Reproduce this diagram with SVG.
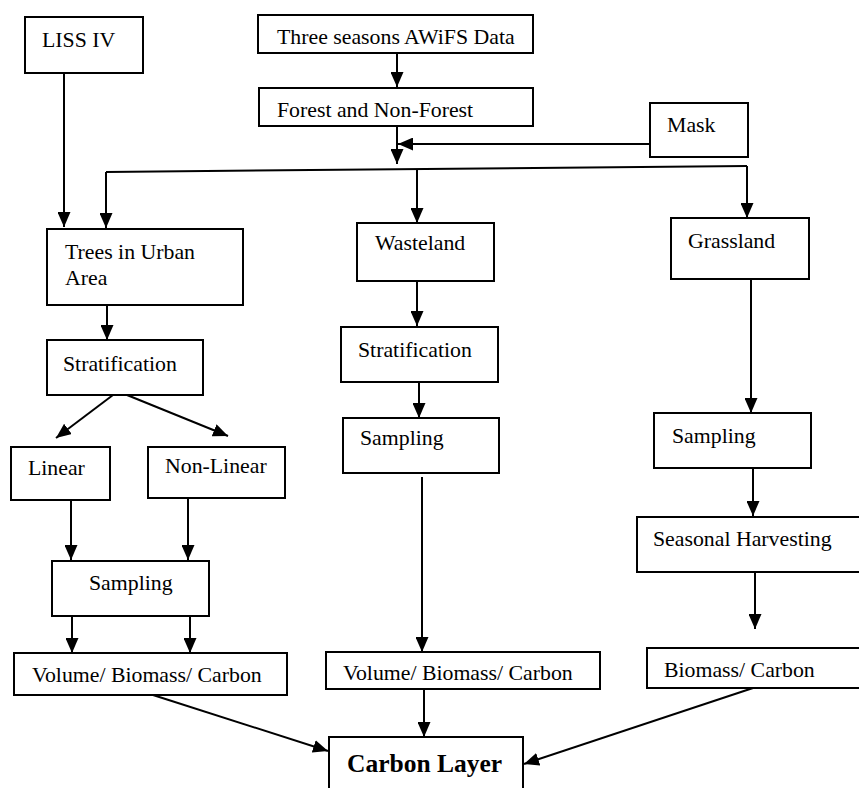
<svg xmlns="http://www.w3.org/2000/svg" width="859" height="788" viewBox="0 0 859 788">
<style>
.box{fill:#fff;stroke:#000;stroke-width:2}
.t{font-family:"Liberation Serif","Times New Roman",serif;font-size:21.8px;fill:#000}
.b{font-weight:bold;font-size:25.5px}
.c{fill:none;stroke:#000;stroke-width:2}
.a{marker-end:url(#ah)}
</style>
<defs>
<marker id="ah" markerUnits="userSpaceOnUse" markerWidth="15" markerHeight="13" refX="15" refY="6.5" orient="auto">
<path d="M0,0 L15,6.5 L0,13 z" fill="#000"/>
</marker>
</defs>
<rect width="859" height="788" fill="#fff"/>
<g id="connectors">
<line class="c a" x1="64" y1="73" x2="64" y2="227"/>
<line class="c a" x1="397" y1="53" x2="397" y2="87"/>
<line class="c a" x1="397" y1="127" x2="397" y2="164"/>
<line class="c a" x1="650" y1="144" x2="398" y2="144"/>
<line class="c" x1="106" y1="172" x2="747" y2="166"/>
<line class="c a" x1="106" y1="172" x2="106" y2="228"/>
<line class="c a" x1="417" y1="170" x2="417" y2="223"/>
<line class="c a" x1="747" y1="166" x2="747" y2="218"/>
<line class="c a" x1="107" y1="305" x2="107" y2="340"/>
<line class="c a" x1="113" y1="395" x2="56" y2="438"/>
<line class="c a" x1="127" y1="395" x2="228" y2="436"/>
<line class="c a" x1="71" y1="500" x2="71" y2="560"/>
<line class="c a" x1="188" y1="498" x2="188" y2="560"/>
<line class="c a" x1="72" y1="616" x2="72" y2="653"/>
<line class="c a" x1="190" y1="616" x2="190" y2="653"/>
<line class="c a" x1="153" y1="695" x2="328" y2="751"/>
<line class="c a" x1="417" y1="281" x2="417" y2="326"/>
<line class="c a" x1="419" y1="382" x2="419" y2="418"/>
<line class="c a" x1="422" y1="477" x2="422" y2="652"/>
<line class="c a" x1="424" y1="689" x2="424" y2="737"/>
<line class="c a" x1="751" y1="279" x2="751" y2="413"/>
<line class="c a" x1="753" y1="468" x2="753" y2="516"/>
<line class="c a" x1="755" y1="572" x2="755" y2="629"/>
<line class="c a" x1="753" y1="688" x2="524" y2="764"/>
</g>
<g id="liss"><rect class="box" x="25" y="17" width="118" height="56"/><text class="t" x="42" y="47">LISS IV</text></g>
<g id="awifs"><rect class="box" x="258" y="15" width="275" height="38"/><text class="t" x="277" y="44">Three seasons AWiFS Data</text></g>
<g id="forest"><rect class="box" x="259" y="88" width="274" height="38"/><text class="t" x="277" y="117">Forest and Non-Forest</text></g>
<g id="mask"><rect class="box" x="650" y="103" width="98" height="54"/><text class="t" x="667" y="132">Mask</text></g>
<g id="trees"><rect class="box" x="47" y="229" width="196" height="76"/><text class="t" x="65" y="259">Trees in Urban</text><text class="t" x="65" y="285">Area</text></g>
<g id="strat1"><rect class="box" x="47" y="340" width="156" height="55"/><text class="t" x="63" y="371">Stratification</text></g>
<g id="linear"><rect class="box" x="11" y="447" width="99" height="53"/><text class="t" x="28" y="475">Linear</text></g>
<g id="nonlinear"><rect class="box" x="148" y="447" width="137" height="51"/><text class="t" x="165" y="473">Non-Linear</text></g>
<g id="sampling1"><rect class="box" x="52" y="561" width="157" height="55"/><text class="t" x="89" y="590">Sampling</text></g>
<g id="vbc1"><rect class="box" x="14" y="653" width="273" height="42"/><text class="t" x="32" y="682">Volume/ Biomass/ Carbon</text></g>
<g id="wasteland"><rect class="box" x="357" y="223" width="137" height="58"/><text class="t" x="375" y="250">Wasteland</text></g>
<g id="strat2"><rect class="box" x="341" y="327" width="157" height="55"/><text class="t" x="358" y="357">Stratification</text></g>
<g id="sampling2"><rect class="box" x="343" y="418" width="156" height="55"/><text class="t" x="360" y="445">Sampling</text></g>
<g id="vbc2"><rect class="box" x="326" y="652" width="274" height="37"/><text class="t" x="343" y="680">Volume/ Biomass/ Carbon</text></g>
<g id="grassland"><rect class="box" x="671" y="218" width="138" height="61"/><text class="t" x="688" y="248">Grassland</text></g>
<g id="sampling3"><rect class="box" x="654" y="413" width="157" height="55"/><text class="t" x="672" y="443">Sampling</text></g>
<g id="harvest"><rect class="box" x="637" y="517" width="240" height="55"/><text class="t" x="653" y="546">Seasonal Harvesting</text></g>
<g id="bc"><rect class="box" x="647" y="648" width="230" height="40"/><text class="t" x="664" y="677">Biomass/ Carbon</text></g>
<g id="carbon"><rect class="box" x="329" y="737" width="194" height="70"/><text class="t b" x="347" y="772">Carbon Layer</text></g>
</svg>
